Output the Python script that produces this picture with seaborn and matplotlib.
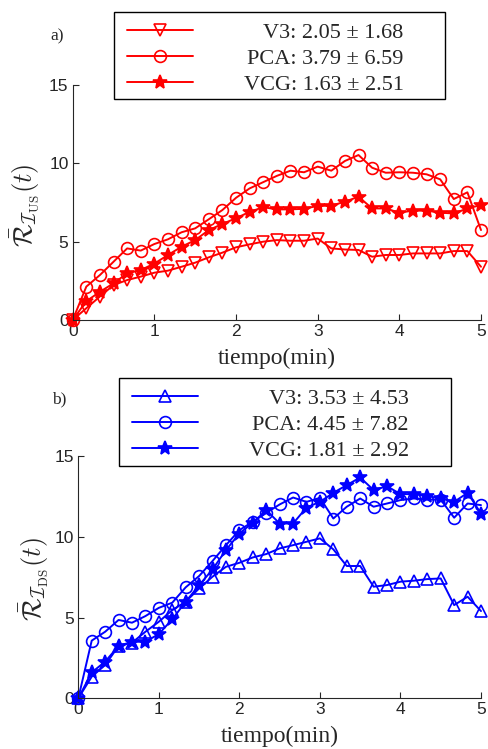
import seaborn as sns
import matplotlib.pyplot as plt
import numpy as np
from matplotlib.patches import Rectangle

# sample grid: one point every 10 s, 0..5 min
tiempo = np.arange(0, 301, 10) / 60

# a) US
us_v3 = [0, 0.75, 1.5, 2.23, 2.55, 2.77, 3.02, 3.15, 3.4, 3.66, 4.0, 4.3, 4.64, 4.83, 5.0, 5.1,
         5.06, 5.06, 5.2, 4.57, 4.5, 4.47, 4.04, 4.15, 4.15, 4.25, 4.25, 4.25, 4.4, 4.4, 3.4]
us_pca = [0, 2.13, 2.87, 3.72, 4.57, 4.43, 4.85, 5.15, 5.6, 5.85, 6.43, 7.02, 7.8, 8.4, 8.8, 9.2,
          9.53, 9.43, 9.79, 9.53, 10.15, 10.53, 9.72, 9.4, 9.43, 9.4, 9.3, 8.98, 7.72, 8.15, 5.74]
us_vcg = [0, 1.2, 1.8, 2.34, 2.98, 3.19, 3.6, 4.15, 4.68, 5.1, 5.74, 6.13, 6.5, 6.9, 7.2, 7.06,
          7.06, 7.1, 7.28, 7.3, 7.55, 7.87, 7.12, 7.12, 6.85, 6.98, 6.98, 6.85, 6.8, 7.12, 7.34]
us_labels = ['V3: 2.05 ± 1.68', 'PCA: 3.79 ± 6.59', 'VCG: 1.63 ± 2.51']

# b) DS
ds_v3 = [0, 1.34, 2.06, 3.24, 3.44, 4.12, 4.74, 5.46, 5.98, 6.8, 7.53, 8.14, 8.39, 8.72, 8.93, 9.28,
         9.48, 9.69, 9.9, 9.22, 8.19, 8.19, 6.91, 7.01, 7.22, 7.28, 7.38, 7.42, 5.77, 6.29, 5.4]
ds_pca = [0, 3.57, 4.12, 4.85, 4.68, 5.09, 5.6, 5.92, 6.87, 7.57, 8.5, 9.48, 10.41, 10.93, 11.48, 12.0,
          12.43, 12.16, 12.41, 11.13, 11.86, 12.37, 11.86, 12.06, 12.27, 12.37, 12.3, 12.3, 11.18, 12.06, 11.96]
ds_vcg = [0, 1.6, 2.27, 3.24, 3.5, 3.5, 3.98, 4.89, 5.98, 7.0, 7.98, 9.18, 10.2, 10.87, 11.65, 10.82,
          10.82, 11.81, 12.16, 12.72, 13.2, 13.67, 12.89, 13.13, 12.64, 12.64, 12.52, 12.37, 12.16, 12.72, 11.44]
ds_labels = ['V3: 3.53 ± 4.53', 'PCA: 4.45 ± 7.82', 'VCG: 1.81 ± 2.92']

sns.set_style('ticks')
plt.rcParams['font.family'] = ['Liberation Sans', 'DejaVu Sans']
plt.rcParams['mathtext.fontset'] = 'cm'

W, H = 488, 749
fig = plt.figure(figsize=(W / 100, H / 100), dpi=100)


def px_axes(l, t, r, b):
    return fig.add_axes([l / W, 1 - b / H, (r - l) / W, (b - t) / H])


def panel(ax, series, labels, markers, color, ylabel, ylab_x, tag, tag_xy, box):
    lines = []
    for y, m, lab in zip(series, markers, labels):
        filled = m == '*'
        sns.lineplot(x=tiempo, y=y, ax=ax, color=color, marker=m,
                     markersize=10 if filled else 8.5,
                     markerfacecolor=color if filled else 'none',
                     markeredgecolor=color, markeredgewidth=1.2,
                     linewidth=1.4, clip_on=False)
        lines.append(ax.lines[-1])
    ax.set_xlim(0, 5)
    ax.set_ylim(0, 15)
    ax.set_xticks(range(6))
    ax.set_yticks([0, 5, 10, 15])
    sns.despine(ax=ax)
    for s in ('left', 'bottom'):
        ax.spines[s].set_linewidth(0.8)
    ax.tick_params(direction='in', length=4, width=0.8, labelsize=12.5, pad=3)
    ax.set_xlabel('tiempo(min)', family='Liberation Serif', fontsize=17, labelpad=6)
    ax.set_ylabel(ylabel, fontsize=19, va='center')
    ax.yaxis.set_label_coords(ylab_x, 0.49)
    fig.text(tag_xy[0] / W, 1 - tag_xy[1] / H, tag, family='Liberation Serif',
             fontsize=12.5, ha='center', va='center')

    # MATLAB-style legend: text right-aligned, box drawn separately
    x0, y0, x1, y1 = box
    leg = ax.legend(lines, labels, loc='upper left',
                    bbox_to_anchor=((x0 + 13) / W, 1 - (y0 + 10) / H),
                    bbox_transform=fig.transFigure, frameon=False,
                    borderpad=0, borderaxespad=0, handlelength=2.95,
                    handletextpad=2.3, labelspacing=0.25,
                    prop={'family': 'Liberation Serif', 'size': 16})
    fig.canvas.draw()
    renderer = fig.canvas.get_renderer()
    texts = leg.get_texts()
    widths = [t.get_window_extent(renderer).width for t in texts]
    for t, w in zip(texts, widths):
        t.set_position((max(widths) - w, 0))
    fig.add_artist(Rectangle((x0 / W, 1 - y1 / H), (x1 - x0) / W, (y1 - y0) / H,
                             transform=fig.transFigure, fill=False,
                             edgecolor='black', linewidth=1.0))


ax1 = px_axes(72.7, 85, 481, 320)
ax2 = px_axes(78.3, 456, 481, 698.3)

panel(ax1, [us_v3, us_pca, us_vcg], us_labels, ['v', 'o', '*'], '#ff0000',
      r'$\bar{\mathcal{R}}_{\mathcal{I}_{\mathrm{US}}}(t)$', -0.116, 'a)', (57, 36),
      (114, 12, 445, 99))
panel(ax2, [ds_v3, ds_pca, ds_vcg], ds_labels, ['^', 'o', '*'], '#0000ff',
      r'$\bar{\mathcal{R}}_{\mathcal{I}_{\mathrm{DS}}}(t)$', -0.108, 'b)', (59, 399),
      (119, 378, 451, 466))

fig.savefig('out.png', dpi=100)
